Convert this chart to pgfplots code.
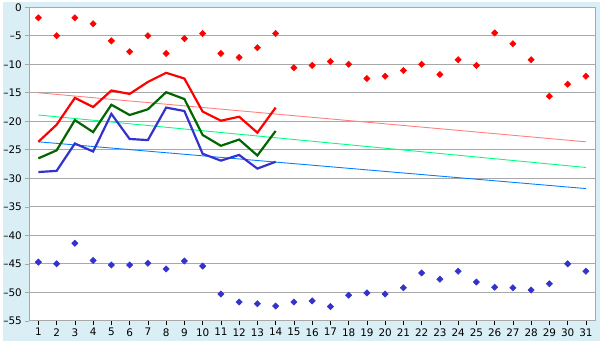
\documentclass[border=0pt]{standalone}
\usepackage{pgfplots}
\pgfplotsset{compat=1.18}
\usepackage{fontspec}
\setmainfont{DejaVu Sans}
\definecolor{bgc}{HTML}{D9EEF5}
\definecolor{gridc}{HTML}{A8A8A8}
\definecolor{redl}{HTML}{FF0000}
\definecolor{pinkt}{HTML}{FF8080}
\definecolor{greenl}{HTML}{006600}
\definecolor{greent}{HTML}{00FF80}
\definecolor{bluel}{HTML}{3333CC}
\definecolor{bluet}{HTML}{0080FF}
\begin{document}
\begin{tikzpicture}[x=1bp,y=1bp]
\fill[bgc] (0,0) rectangle (600,340);
\begin{axis}[
  at={(26.7bp,20bp)}, anchor=south west,
  scale only axis, width=568.3bp, height=315bp,
  xmin=0.5, xmax=31.5, ymin=-55, ymax=0,
  xtick={1,...,31}, ytick={-55,-50,-45,-40,-35,-30,-25,-20,-15,-10,-5,0},
  yticklabels={\textendash55,\textendash50,\textendash45,\textendash40,\textendash35,\textendash30,\textendash25,\textendash20,\textendash15,\textendash10,\textendash5,0},
  axis background/.style={fill=white},
  axis line style={gridc, line width=0.8bp},
  ymajorgrids, grid style={gridc, line width=0.8bp},
  xtick align=outside, ytick align=outside,
  major tick length=4bp,
  x tick style={black, line width=0.6bp}, y tick style={gridc, line width=0.6bp},
  xtick pos=bottom, ytick pos=left,
  tick label style={font=\fontsize{10.5}{12}\selectfont},
  /pgf/number format/assume math mode=true,
  ]
% trend lines
\addplot[pinkt, line width=0.9bp] coordinates {(1,-15.0) (31,-23.6)};
\addplot[greent, line width=0.9bp] coordinates {(1,-18.9) (31,-28.1)};
\addplot[bluet, line width=0.9bp] coordinates {(1,-23.6) (31,-31.8)};
% lines
\addplot[redl, line width=2.2bp] coordinates {
(1,-23.6) (2,-20.6) (3,-15.9) (4,-17.5) (5,-14.6) (6,-15.2) (7,-13.1) (8,-11.5) (9,-12.5) (10,-18.3) (11,-19.9) (12,-19.2) (13,-22.0) (14,-17.6)};
\addplot[greenl, line width=2.2bp] coordinates {
(1,-26.5) (2,-25.1) (3,-19.8) (4,-21.9) (5,-17.1) (6,-18.9) (7,-17.9) (8,-14.9) (9,-16.1) (10,-22.4) (11,-24.3) (12,-23.2) (13,-26.0) (14,-21.7)};
\addplot[bluel, line width=2.2bp] coordinates {
(1,-28.9) (2,-28.7) (3,-23.9) (4,-25.3) (5,-18.7) (6,-23.1) (7,-23.3) (8,-17.6) (9,-18.2) (10,-25.7) (11,-26.9) (12,-25.9) (13,-28.3) (14,-27.1)};
% markers
\addplot[only marks, mark=square*, mark size=2.2bp, mark options={rotate=45, line width=0.6bp}, redl] coordinates {
(1,-1.85) (2,-5.0) (3,-1.85) (4,-2.9) (5,-5.9) (6,-7.8) (7,-5.0) (8,-8.1) (9,-5.5) (10,-4.6)
(11,-8.1) (12,-8.8) (13,-7.1) (14,-4.6) (15,-10.6) (16,-10.2) (17,-9.5) (18,-10.0) (19,-12.5) (20,-12.1)
(21,-11.1) (22,-10.0) (23,-11.8) (24,-9.2) (25,-10.2) (26,-4.5) (27,-6.4) (28,-9.2) (29,-15.6) (30,-13.5) (31,-12.1)};
\addplot[only marks, mark=square*, mark size=2.2bp, mark options={rotate=45, line width=0.6bp}, bluel] coordinates {
(1,-44.7) (2,-45.0) (3,-41.4) (4,-44.4) (5,-45.2) (6,-45.2) (7,-44.9) (8,-45.9) (9,-44.5) (10,-45.4)
(11,-50.3) (12,-51.7) (13,-52.0) (14,-52.4) (15,-51.7) (16,-51.5) (17,-52.5) (18,-50.5) (19,-50.1) (20,-50.3)
(21,-49.2) (22,-46.6) (23,-47.7) (24,-46.3) (25,-48.2) (26,-49.1) (27,-49.2) (28,-49.6) (29,-48.5) (30,-45.0) (31,-46.3)};
\end{axis}
\end{tikzpicture}
\end{document}
